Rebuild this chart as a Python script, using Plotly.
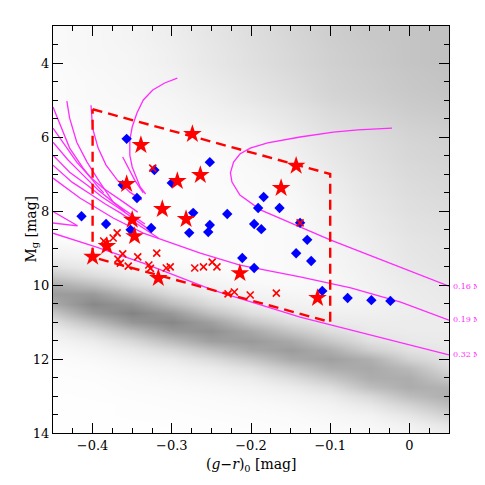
import plotly.graph_objects as go

# background field density (read by eye from the dot cloud), rows = Mg, cols = g-r
bg_x = [-0.45, -0.40, -0.35, -0.30, -0.25, -0.20, -0.15, -0.10, -0.05, 0.00, 0.05]
bg_y = [3.0 + 0.25 * i for i in range(45)]
bg_density = [
    [0.03, 0.04, 0.06, 0.09, 0.13, 0.17, 0.21, 0.25, 0.28, 0.30, 0.32],   # 3.00
    [0.03, 0.04, 0.06, 0.09, 0.13, 0.17, 0.21, 0.25, 0.28, 0.30, 0.32],
    [0.03, 0.04, 0.055, 0.085, 0.125, 0.165, 0.205, 0.245, 0.275, 0.30, 0.32],
    [0.03, 0.04, 0.05, 0.08, 0.12, 0.16, 0.20, 0.24, 0.27, 0.30, 0.32],
    [0.02, 0.04, 0.05, 0.08, 0.12, 0.16, 0.20, 0.24, 0.27, 0.30, 0.32],   # 4.00
    [0.02, 0.035, 0.045, 0.07, 0.11, 0.15, 0.19, 0.23, 0.26, 0.29, 0.31],
    [0.02, 0.03, 0.045, 0.065, 0.10, 0.14, 0.18, 0.225, 0.255, 0.285, 0.305],
    [0.02, 0.03, 0.04, 0.06, 0.09, 0.13, 0.17, 0.22, 0.25, 0.28, 0.30],
    [0.02, 0.03, 0.035, 0.05, 0.08, 0.12, 0.16, 0.21, 0.24, 0.27, 0.29],  # 5.00
    [0.015, 0.025, 0.03, 0.045, 0.07, 0.10, 0.14, 0.19, 0.225, 0.26, 0.28],
    [0.015, 0.02, 0.03, 0.04, 0.06, 0.085, 0.125, 0.175, 0.21, 0.245, 0.265],
    [0.01, 0.02, 0.025, 0.03, 0.045, 0.065, 0.11, 0.16, 0.195, 0.23, 0.25],
    [0.01, 0.02, 0.02, 0.025, 0.035, 0.05, 0.09, 0.14, 0.18, 0.22, 0.24],  # 6.00
    [0.01, 0.01, 0.02, 0.02, 0.03, 0.045, 0.08, 0.13, 0.17, 0.21, 0.23],
    [0.01, 0.01, 0.015, 0.02, 0.025, 0.04, 0.07, 0.12, 0.165, 0.205, 0.225],
    [0.01, 0.01, 0.015, 0.015, 0.02, 0.035, 0.06, 0.11, 0.155, 0.195, 0.215],
    [0.01, 0.01, 0.015, 0.015, 0.02, 0.03, 0.05, 0.10, 0.15, 0.19, 0.21],  # 7.00
    [0.01, 0.01, 0.015, 0.015, 0.02, 0.03, 0.045, 0.09, 0.14, 0.18, 0.20],
    [0.01, 0.01, 0.015, 0.015, 0.02, 0.025, 0.04, 0.085, 0.135, 0.175, 0.195],
    [0.01, 0.01, 0.015, 0.015, 0.02, 0.02, 0.035, 0.075, 0.125, 0.165, 0.185],
    [0.01, 0.01, 0.015, 0.015, 0.02, 0.02, 0.03, 0.07, 0.12, 0.16, 0.18],  # 8.00
    [0.01, 0.01, 0.015, 0.015, 0.02, 0.02, 0.03, 0.065, 0.11, 0.15, 0.17],
    [0.01, 0.01, 0.015, 0.015, 0.02, 0.02, 0.03, 0.06, 0.105, 0.145, 0.165],
    [0.02, 0.01, 0.015, 0.015, 0.02, 0.02, 0.03, 0.055, 0.095, 0.135, 0.155],
    [0.05, 0.035, 0.015, 0.015, 0.02, 0.02, 0.03, 0.05, 0.09, 0.13, 0.15],  # 9.00
    [0.085, 0.06, 0.04, 0.015, 0.02, 0.02, 0.03, 0.048, 0.085, 0.125, 0.145],
    [0.16, 0.10, 0.065, 0.04, 0.02, 0.02, 0.03, 0.045, 0.08, 0.12, 0.14],
    [0.285, 0.19, 0.11, 0.063, 0.04, 0.02, 0.03, 0.042, 0.075, 0.11, 0.13],
    [0.435, 0.34, 0.20, 0.105, 0.064, 0.04, 0.03, 0.04, 0.07, 0.10, 0.12],  # 10.00
    [0.51, 0.52, 0.355, 0.195, 0.10, 0.06, 0.05, 0.04, 0.065, 0.095, 0.115],
    [0.435, 0.61, 0.54, 0.345, 0.185, 0.095, 0.07, 0.058, 0.065, 0.09, 0.11],
    [0.285, 0.52, 0.635, 0.525, 0.32, 0.17, 0.10, 0.076, 0.08, 0.09, 0.105],
    [0.16, 0.34, 0.54, 0.615, 0.49, 0.295, 0.175, 0.11, 0.095, 0.097, 0.10],  # 11.00
    [0.085, 0.19, 0.355, 0.525, 0.57, 0.445, 0.295, 0.175, 0.11, 0.10, 0.10],
    [0.05, 0.10, 0.20, 0.345, 0.49, 0.52, 0.44, 0.29, 0.155, 0.115, 0.105],
    [0.03, 0.058, 0.11, 0.195, 0.32, 0.445, 0.51, 0.42, 0.25, 0.15, 0.12],
    [0.02, 0.034, 0.065, 0.105, 0.185, 0.295, 0.44, 0.49, 0.41, 0.23, 0.145],  # 12.00
    [0.015, 0.02, 0.04, 0.063, 0.10, 0.17, 0.295, 0.42, 0.445, 0.355, 0.19],
    [0.01, 0.015, 0.025, 0.04, 0.064, 0.095, 0.175, 0.29, 0.42, 0.42, 0.28],
    [0.01, 0.01, 0.02, 0.025, 0.04, 0.06, 0.10, 0.175, 0.335, 0.425, 0.39],
    [0.005, 0.01, 0.015, 0.02, 0.025, 0.04, 0.063, 0.10, 0.20, 0.34, 0.42],  # 13.00
    [0.005, 0.005, 0.01, 0.015, 0.02, 0.025, 0.04, 0.066, 0.12, 0.225, 0.34],
    [0.005, 0.005, 0.01, 0.01, 0.015, 0.02, 0.025, 0.043, 0.065, 0.13, 0.235],
    [0.005, 0.005, 0.005, 0.01, 0.01, 0.015, 0.02, 0.03, 0.045, 0.075, 0.14],
    [0.0, 0.005, 0.005, 0.005, 0.01, 0.01, 0.015, 0.02, 0.03, 0.05, 0.09],  # 14.00
]

# evolutionary tracks (magenta)
track_016_x = [-0.022, -0.065, -0.096, -0.138, -0.179, -0.201, -0.214, -0.222, -0.226,
               -0.224, -0.214, -0.188, -0.150, -0.100, -0.045, 0.05]
track_016_y = [5.76, 5.81, 5.87, 6.00, 6.16, 6.30, 6.46, 6.68, 6.97,
               7.22, 7.57, 7.97, 8.32, 8.78, 9.24, 10.03]
track_019_x = [-0.45, -0.416, -0.374, -0.336, -0.264, -0.214, -0.138, -0.074, -0.011, 0.05]
track_019_y = [7.11, 7.65, 8.19, 8.60, 9.14, 9.46, 9.78, 10.08, 10.46, 10.95]
track_032_x = [-0.45, -0.396, -0.336, -0.248, -0.138, -0.036, 0.05]
track_032_y = [8.60, 8.97, 9.41, 10.14, 10.87, 11.43, 11.89]

other_tracks = [
    ([-0.45, -0.441, -0.429, -0.412, -0.395, -0.386],
     [5.19, 5.68, 6.30, 6.84, 7.30, 7.51]),
    ([-0.4325, -0.429, -0.420, -0.407, -0.391, -0.374, -0.359],
     [5.03, 5.49, 6.14, 6.68, 7.22, 7.76, 8.03]),
    ([-0.45, -0.435, -0.420, -0.403, -0.387, -0.365, -0.343],
     [5.76, 6.22, 6.68, 7.08, 7.38, 7.70, 8.03]),
    ([-0.45, -0.431, -0.412, -0.393, -0.374, -0.353, -0.334],
     [6.14, 6.62, 7.03, 7.43, 7.76, 8.08, 8.35]),
    ([-0.45, -0.429, -0.407, -0.388, -0.369, -0.347, -0.328],
     [6.49, 6.95, 7.30, 7.62, 7.89, 8.22, 8.51]),
    ([-0.45, -0.426, -0.403, -0.384, -0.365, -0.340, -0.317],
     [6.76, 7.22, 7.54, 7.81, 8.05, 8.41, 8.73]),
    ([-0.46, -0.419, -0.46],
     [7.89, 8.40, 8.30]),
    ([-0.293, -0.309, -0.324, -0.336, -0.344, -0.350, -0.353, -0.353, -0.350, -0.345, -0.340, -0.333],
     [4.41, 4.54, 4.73, 5.00, 5.35, 5.73, 6.08, 6.49, 6.81, 7.11, 7.35, 7.54]),
    ([-0.362, -0.355, -0.347, -0.336],
     [6.54, 6.84, 7.16, 7.51]),
    ([-0.402, -0.400, -0.393, -0.383, -0.369, -0.353, -0.338],
     [5.14, 5.76, 6.30, 6.76, 7.16, 7.49, 7.70]),
]

track_labels = ["0.16 M<sub>⊙</sub>", "0.19 M<sub>⊙</sub>", "0.32 M<sub>⊙</sub>"]
track_label_y = [10.05, 10.95, 11.9]

# selection box
box_x = [-0.4, -0.1, -0.1, -0.4, -0.4]
box_y = [5.25, 7.0, 11.0, 9.25, 5.25]

# objects
star_x = [-0.339, -0.274, -0.293, -0.264, -0.357, -0.312, -0.282, -0.350,
          -0.347, -0.382, -0.400, -0.317, -0.214, -0.143, -0.162, -0.116]
star_y = [6.22, 5.92, 7.19, 7.03, 7.27, 7.95, 8.22, 8.24,
          8.68, 8.95, 9.24, 9.81, 9.68, 6.78, 7.38, 10.35]

diamond_x = [-0.357, -0.322, -0.362, -0.344, -0.300, -0.252, -0.273, -0.230,
             -0.191, -0.184, -0.164, -0.414, -0.383, -0.352, -0.326, -0.278,
             -0.254, -0.252, -0.196, -0.187, -0.138, -0.129, -0.143, -0.124,
             -0.211, -0.196, -0.110, -0.078, -0.048, -0.024]
diamond_y = [6.05, 6.89, 7.30, 7.65, 7.24, 6.68, 8.05, 8.08,
             7.92, 7.62, 7.92, 8.14, 8.35, 8.51, 8.46, 8.59,
             8.57, 8.38, 8.35, 8.49, 8.32, 8.78, 9.14, 9.35,
             9.27, 9.54, 10.16, 10.35, 10.41, 10.43]

cross_x = [-0.324, -0.138, -0.369, -0.374, -0.386, -0.383, -0.362, -0.368,
           -0.365, -0.355, -0.343, -0.319, -0.329, -0.327, -0.307, -0.302,
           -0.271, -0.260, -0.249, -0.243, -0.229, -0.221, -0.201, -0.168]
cross_y = [6.84, 8.32, 8.59, 8.73, 8.81, 8.89, 9.16, 9.30,
           9.41, 9.49, 9.24, 9.14, 9.46, 9.55, 9.54, 9.51,
           9.54, 9.51, 9.38, 9.51, 10.24, 10.19, 10.27, 10.22]

MAGENTA = "#ff2bff"
FONT = "DejaVu Serif"

fig = go.Figure()

fig.add_trace(go.Heatmap(
    x=bg_x, y=bg_y, z=bg_density,
    zmin=0, zmax=1, zsmooth="best",
    colorscale=[[0, "white"], [1, "#3c3c3c"]],
    showscale=False, hoverinfo="skip",
))

for tx, ty in other_tracks + [(track_016_x, track_016_y),
                              (track_019_x, track_019_y),
                              (track_032_x, track_032_y)]:
    fig.add_trace(go.Scatter(
        x=tx, y=ty, mode="lines",
        line=dict(color=MAGENTA, width=1.3),
        showlegend=False, hoverinfo="skip",
    ))

fig.add_trace(go.Scatter(
    x=box_x, y=box_y, mode="lines",
    line=dict(color="red", width=2.4, dash="10px,6px"),
    showlegend=False,
))

fig.add_trace(go.Scatter(
    x=diamond_x, y=diamond_y, mode="markers",
    marker=dict(symbol="diamond", size=8, color="#0000ff"),
    showlegend=False,
))
fig.add_trace(go.Scatter(
    x=star_x, y=star_y, mode="markers",
    marker=dict(symbol="star", size=14, color="#ff0000"),
    showlegend=False,
))
fig.add_trace(go.Scatter(
    x=cross_x, y=cross_y, mode="markers",
    marker=dict(symbol="x-thin", size=7, line=dict(color="#ff0000", width=1.6)),
    showlegend=False,
))

for label, ly in zip(track_labels, track_label_y):
    fig.add_annotation(
        x=1.0, xref="paper", y=ly, yref="y",
        xanchor="left", yanchor="middle", xshift=2,
        text=label, showarrow=False,
        font=dict(family=FONT, size=8, color=MAGENTA),
    )

# axis titles as annotations so their distance from the frame is fixed
fig.add_annotation(
    x=0.5, xref="paper", y=0, yref="paper",
    xanchor="center", yanchor="middle", yshift=-32,
    text="(<i>g</i>−<i>r</i>)<sub>0</sub> [mag]", showarrow=False,
    font=dict(family=FONT, size=14, color="black"),
)
fig.add_annotation(
    x=0, xref="paper", y=0.5, yref="paper",
    xanchor="center", yanchor="middle", xshift=-22, textangle=-90,
    text="M<sub>g</sub> [mag]", showarrow=False,
    font=dict(family=FONT, size=14, color="black"),
)

axis_style = dict(
    showline=True, linewidth=1.3, linecolor="black", mirror="ticks",
    ticks="inside", ticklen=10, tickwidth=1, tickcolor="black",
    showgrid=False, zeroline=False, automargin=False,
    tickfont=dict(family=FONT, size=13, color="black"),
)

# the page body adds an 8px offset, so the figure is 8px smaller
fig.update_layout(
    width=477, height=477,
    margin=dict(l=45, r=36, t=18, b=52),
    plot_bgcolor="white", paper_bgcolor="white",
    font=dict(family=FONT, color="black"),
    xaxis=dict(
        range=[-0.45, 0.05], tick0=0, dtick=0.1,
        minor=dict(ticks="inside", ticklen=5, dtick=0.025, tick0=0, tickcolor="black"),
        **axis_style,
    ),
    yaxis=dict(
        range=[14, 3], tick0=0, dtick=2,
        minor=dict(ticks="inside", ticklen=5, dtick=0.5, tick0=0, tickcolor="black"),
        **axis_style,
    ),
)

fig.write_html("out.html")
